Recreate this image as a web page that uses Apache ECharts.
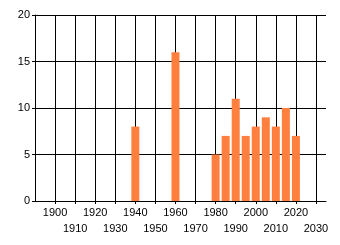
<!DOCTYPE html>
<html><head><meta charset="utf-8">
<script src="https://cdn.jsdelivr.net/npm/echarts@6/dist/echarts.min.js"></script>
<style>html,body{margin:0;padding:0;background:#fff}#c{width:340px;height:245px}</style>
</head><body><div id="c"></div>
<script>
const years = [1940, 1960, 1980, 1985, 1990, 1995, 2000, 2005, 2010, 2015, 2020];
const counts = [8, 16, 5, 7, 11, 7, 8, 9, 8, 10, 7];
const yTicks = [0, 5, 10, 15, 20];

const chart = echarts.init(document.getElementById('c'), null, {renderer: 'canvas'});
chart.setOption({
  animation: false,
  grid: {left: 35, top: 15, right: 14, bottom: 44},
  xAxis: {
    type: 'value', min: 1890, max: 2035, interval: 10,
    axisLine: {show: true, lineStyle: {color: '#000', width: 1}},
    axisTick: {show: true, length: 3, lineStyle: {color: '#000'}},
    splitLine: {show: true, showMaxLine: false, lineStyle: {color: '#000', width: 1}},
    axisLabel: {
      showMinLabel: false, showMaxLabel: false,
      color: '#000', fontFamily: 'Liberation Sans', fontSize: 11, margin: 4, lineHeight: 16,
      formatter: function (v) {
        if (v > 2030 || v < 1900) return '';
        return ((v / 10) % 2 === 0) ? String(v) : '\n' + v;
      }
    }
  },
  yAxis: {
    type: 'value', min: yTicks[0], max: yTicks[yTicks.length - 1], interval: 5,
    axisLine: {show: true, lineStyle: {color: '#000', width: 1}},
    axisTick: {show: true, length: 3, lineStyle: {color: '#000'}},
    splitLine: {show: true, lineStyle: {color: '#000', width: 1}},
    axisLabel: {color: '#000', fontFamily: 'Liberation Sans', fontSize: 11, margin: 5}
  },
  series: [{
    type: 'bar',
    barWidth: 8,
    itemStyle: {color: '#FF7F3F'},
    data: years.map((y, i) => [y, counts[i]])
  }]
});
</script></body></html>
